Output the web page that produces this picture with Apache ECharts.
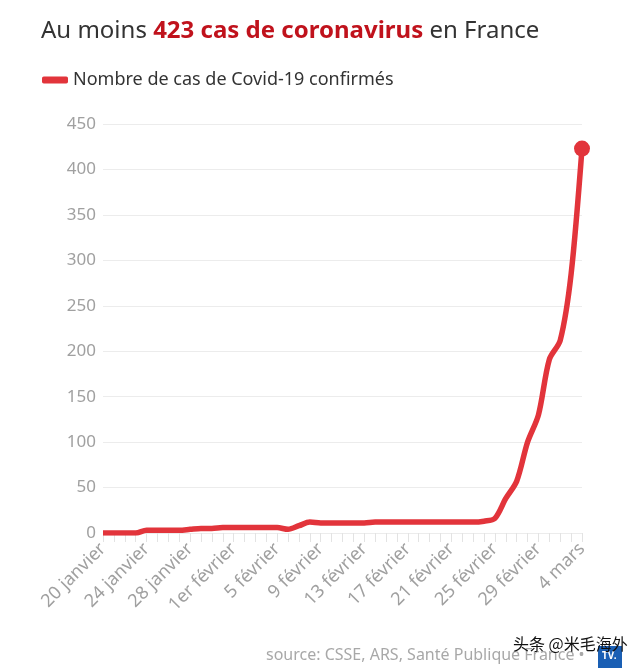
<!DOCTYPE html>
<html><head><meta charset="utf-8">
<script src="https://cdn.jsdelivr.net/npm/echarts@6/dist/echarts.min.js"></script>
<style>html,body{margin:0;padding:0;background:#fff}#c{width:640px;height:671px}</style>
</head><body><div id="c"></div>
<script>
const categories = [
 "20 janvier","21 janvier","22 janvier","23 janvier","24 janvier","25 janvier","26 janvier","27 janvier",
 "28 janvier","29 janvier","30 janvier","31 janvier","1er février","2 février","3 février","4 février",
 "5 février","6 février","7 février","8 février","9 février","10 février","11 février","12 février",
 "13 février","14 février","15 février","16 février","17 février","18 février","19 février","20 février",
 "21 février","22 février","23 février","24 février","25 février","26 février","27 février","28 février",
 "29 février","1 mars","2 mars","3 mars","4 mars"
];
const cases = [
 0,0,0,0,3,3,3,3,
 4,5,5,6,6,6,6,6,
 6,4,8,12,11,11,11,11,
 11,12,12,12,12,12,12,12,
 12,12,12,13,16,38,57,100,
 130,191,212,285,423
];
const yTicks = [0,50,100,150,200,250,300,350,400,450];
const seriesName = "Nombre de cas de Covid-19 confirmés";

const FONT = "Noto Sans";
const RED = "#e2343b";
const chart = echarts.init(document.getElementById('c'), null, {renderer:'canvas'});
const last = cases.length - 1;
chart.setOption({
  animation:false,
  title:{
    left:36, top:14,
    text:"{a|Au moins }{b|423 cas de coronavirus}{a| en France}",
    textStyle:{ rich:{
      a:{fontFamily:FONT, fontSize:24, color:"#333", fontWeight:'normal'},
      b:{fontFamily:FONT, fontSize:24, color:"#c0121c", fontWeight:'bold'}
    }}
  },
  legend:{
    left:37, top:66,
    icon:'roundRect', itemWidth:26, itemHeight:7, itemGap:6,
    textStyle:{fontFamily:FONT, fontSize:18, color:"#333"},
    data:[seriesName]
  },
  grid:{left:103, right:58, top:124, bottom:138},
  xAxis:{
    type:'category', data:categories, boundaryGap:false,
    axisLine:{show:false},
    axisTick:{show:true, interval:0, length:9, lineStyle:{color:"#e3e3e3"}},
    axisLabel:{interval:3, rotate:45, color:"#a0a0a0", fontFamily:FONT, fontSize:18, margin:13},
    splitLine:{show:false}
  },
  yAxis:{
    type:'value', min:yTicks[0], max:yTicks[yTicks.length-1], interval:50,
    axisLine:{show:false}, axisTick:{show:false},
    axisLabel:{color:"#a0a0a0", fontFamily:FONT, fontSize:17, margin:7},
    splitLine:{lineStyle:{color:"#ececec", width:1}}
  },
  series:[{
    name:seriesName, type:'line', data:cases,
    smooth:0.3,
    showAllSymbol:true, symbol:'circle',
    symbolSize:(v,p)=> p.dataIndex===last ? 16 : 0,
    itemStyle:{color:RED},
    lineStyle:{color:RED, width:5.5}
  }],
  graphic:[
    {type:'text', left:266, top:647, style:{text:"source: CSSE, ARS, Santé Publique France •", font:"16px 'Noto Sans'", fill:"#a8a8a8"}},
    {type:'rect', left:598, top:646, shape:{width:24, height:22}, style:{fill:"#1a5fb4"}},
    {type:'text', left:602, top:651, style:{text:"TV.", font:"bold 10px 'Noto Sans'", fill:"#fff"}},
    {type:'text', left:513, top:636, style:{text:"头条 @米毛海外", font:"16px 'Noto Sans CJK SC'", fill:"#111"}}
  ]
});
</script></body></html>
